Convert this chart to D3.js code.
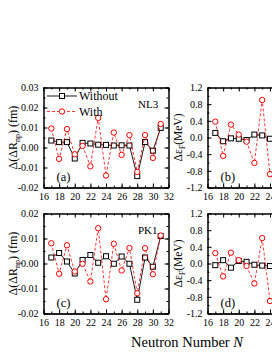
<!DOCTYPE html>
<html>
<head>
<meta charset="utf-8">
<script src="https://cdn.jsdelivr.net/npm/d3@7"></script>
<style>
  html, body { margin: 0; padding: 0; background: #fff; }
  svg { display: block; font-family: "Liberation Serif", "Times New Roman", serif; }
</style>
</head>
<body>
<div id="container"></div>
<script>
/* DATA */
const neutrons = [17, 18, 19, 20, 21, 22, 23, 24, 25, 26, 27, 28, 29, 30, 31];
const neutronsEf = [17, 18, 19, 20, 21, 22, 23, 24];

// (a) NL3, Delta(Delta R_np) in fm
const nl3DrWithout = [0.0035, 0.0027, 0.0027, -0.0055, 0.0023, 0.0020, 0.0014, 0.0013, 0.0010, 0.0011, 0.0010, -0.0143, 0.0027, -0.0016, 0.0098];
const nl3DrWith = [0.0095, -0.0057, 0.0092, -0.0034, 0.0008, -0.0094, 0.0148, -0.0140, 0.0075, -0.0037, 0.0062, -0.0122, 0.0062, -0.0052, 0.0118];

// (c) PK1, Delta(Delta R_np) in fm
const pk1DrWithout = [0.0024, 0.0042, 0.0008, -0.0040, 0.0014, 0.0034, 0.0003, 0.0029, -0.0001, 0.0028, -0.0001, -0.0145, 0.0024, -0.0013, 0.0110];
const pk1DrWith = [0.0081, -0.0041, 0.0073, -0.0032, -0.0001, -0.0072, 0.0141, -0.0143, 0.0079, -0.0028, 0.0062, -0.0119, 0.0061, -0.0043, 0.0112];

// (b) NL3, Delta eps_F in MeV (only N <= 24 visible)
const nl3EfWithout = [0.11, -0.09, -0.02, -0.03, -0.06, 0.07, 0.05, -0.03];
const nl3EfWith = [0.38, -0.44, 0.31, 0.07, -0.10, -0.61, 0.90, -0.88];

// (d) PK1, Delta eps_F in MeV
const pk1EfWithout = [-0.04, 0.08, -0.10, 0.06, 0.04, -0.03, -0.05, -0.06];
const pk1EfWith = [0.25, -0.31, 0.26, 0.08, -0.06, -0.48, 0.61, -0.90];

// tick labels
const xTicks = [16, 18, 20, 22, 24, 26, 28, 30, 32];
const xTicksRight = [16, 18, 20, 22, 24]; // the rest fall outside the picture
const drTicksA = [-0.02, -0.01, 0.00, 0.01, 0.02, 0.03];
const drTicksC = [-0.02, -0.01, 0.00, 0.01, 0.02];
const efTicks = [-1.2, -0.8, -0.4, 0.0, 0.4, 0.8, 1.2];

const legendLabels = ["Without", "With"];

/* LAYOUT */
const W = 272, H = 352;
const svg = d3.select("#container").append("svg")
  .attr("width", W).attr("height", H);

const red = "#ff0000";

function drawPanel(opt) {
  const x = d3.scaleLinear().domain([16, 32]).range([opt.x0, opt.x1]);
  const y = d3.scaleLinear().domain(opt.yDomain).range([opt.y1, opt.y0]);
  const g = svg.append("g");

  const minorX = d3.range(16, 33, 1);
  const minorY = d3.range(opt.yDomain[0], opt.yDomain[1] + opt.minorStep / 2, opt.minorStep);

  // minor ticks
  g.append("g").attr("transform", `translate(0,${opt.y1})`)
    .call(d3.axisBottom(x).tickValues(minorX).tickSize(-2).tickSizeOuter(0).tickFormat(""));
  g.append("g").attr("transform", `translate(0,${opt.y0})`)
    .call(d3.axisTop(x).tickValues(minorX).tickSize(-2).tickSizeOuter(0).tickFormat(""));
  g.append("g").attr("transform", `translate(${opt.x0},0)`)
    .call(d3.axisLeft(y).tickValues(minorY).tickSize(-2).tickSizeOuter(0).tickFormat(""));
  g.append("g").attr("transform", `translate(${opt.x1},0)`)
    .call(d3.axisRight(y).tickValues(minorY).tickSize(-2).tickSizeOuter(0).tickFormat(""));

  // major ticks
  g.append("g").attr("transform", `translate(0,${opt.y1})`)
    .call(d3.axisBottom(x).tickValues(xTicks).tickSize(-4).tickSizeOuter(0).tickFormat(""));
  const xAxis = g.append("g").attr("transform", `translate(0,${opt.y1})`)
    .call(d3.axisBottom(x).tickValues(opt.xLabels).tickSize(0).tickSizeOuter(0).tickPadding(5).tickFormat(d => d));
  g.append("g").attr("transform", `translate(0,${opt.y0})`)
    .call(d3.axisTop(x).tickValues(xTicks).tickSize(-4).tickSizeOuter(0).tickFormat(""));
  const yAxis = g.append("g").attr("transform", `translate(${opt.x0},0)`)
    .call(d3.axisLeft(y).tickValues(opt.yTicks).tickSize(-4).tickSizeOuter(0).tickPadding(5).tickFormat(d => d.toFixed(opt.digits)));
  g.append("g").attr("transform", `translate(${opt.x1},0)`)
    .call(d3.axisRight(y).tickValues(opt.yTicks).tickSize(-4).tickSizeOuter(0).tickFormat(""));

  g.selectAll(".domain").attr("stroke", "#000").attr("stroke-width", 1);
  g.selectAll(".tick line").attr("stroke", "#000");
  xAxis.selectAll(".tick text").attr("font-family", "Liberation Serif").attr("font-size", 10).attr("fill", "#000");
  yAxis.selectAll(".tick text").attr("font-family", "Liberation Serif").attr("font-size", 10).attr("fill", "#000");

  // series: Without (black, solid, squares)
  const line = d3.line().x(d => x(d[0])).y(d => y(d[1]));
  const blackPts = opt.ns.map((n, i) => [n, opt.without[i]]);
  const redPts = opt.ns.map((n, i) => [n, opt.with[i]]);

  g.append("path").datum(blackPts).attr("d", line)
    .attr("fill", "none").attr("stroke", "#000").attr("stroke-width", 0.9);
  g.selectAll("rect.sq").data(blackPts).join("rect").attr("class", "sq")
    .attr("x", d => x(d[0]) - 2.5).attr("y", d => y(d[1]) - 2.5)
    .attr("width", 5).attr("height", 5)
    .attr("fill", "#fff").attr("stroke", "#000").attr("stroke-width", 1);

  // series: With (red, dashed, circles)
  g.append("path").datum(redPts).attr("d", line)
    .attr("fill", "none").attr("stroke", red).attr("stroke-width", 0.8)
    .attr("stroke-dasharray", "3,2");
  g.selectAll("circle.ci").data(redPts).join("circle").attr("class", "ci")
    .attr("cx", d => x(d[0])).attr("cy", d => y(d[1])).attr("r", 2.7)
    .attr("fill", "#fff").attr("stroke", red).attr("stroke-width", 1);

  // panel letter
  g.append("text").attr("x", opt.x0 + 13).attr("y", opt.y1 - 6.5)
    .attr("font-size", 12.5).attr("fill", "#000").text(opt.letter);

  if (opt.model) {
    g.append("text").attr("x", opt.x1 - 30.5).attr("y", opt.y0 + 20.5)
      .attr("font-size", 11).attr("fill", "#000").text(opt.model);
  }

  // y label
  const yl = g.append("text")
    .attr("transform", `translate(${opt.labelX},${(opt.y0 + opt.y1) / 2}) rotate(-90)`)
    .attr("text-anchor", "middle").attr("font-size", opt.labelSize).attr("fill", "#000");
  opt.label(yl);

  return { x, y, g };
}

// (a)
const pa = drawPanel({
  x0: 43.5, x1: 168.5, y0: 87.5, y1: 187.5,
  yDomain: [-0.02, 0.03], yTicks: drTicksA, minorStep: 0.005, digits: 2, xLabels: xTicks,
  ns: neutrons, without: nl3DrWithout, with: nl3DrWith,
  letter: "(a)", model: "NL3", labelX: 17, labelSize: 12,
  label: t => {
    t.append("tspan").text("Δ(ΔR");
    t.append("tspan").attr("font-size", 8).attr("dy", 3).text("np");
    t.append("tspan").attr("dy", -3).text(") (fm)");
  }
});

// legend in (a)
const legY = [96, 111.5];
pa.g.append("line").attr("x1", 47).attr("x2", 77).attr("y1", legY[0]).attr("y2", legY[0])
  .attr("stroke", "#000").attr("stroke-width", 0.9);
pa.g.append("rect").attr("x", 62 - 2.5).attr("y", legY[0] - 2.5).attr("width", 5).attr("height", 5)
  .attr("fill", "#fff").attr("stroke", "#000");
pa.g.append("line").attr("x1", 47).attr("x2", 77).attr("y1", legY[1]).attr("y2", legY[1])
  .attr("stroke", red).attr("stroke-width", 0.8).attr("stroke-dasharray", "3,2");
pa.g.append("circle").attr("cx", 62).attr("cy", legY[1]).attr("r", 2.7)
  .attr("fill", "#fff").attr("stroke", red);
legendLabels.forEach((lab, i) => {
  pa.g.append("text").attr("x", 79).attr("y", legY[i] + 4.3)
    .attr("font-size", 12).attr("fill", "#000").text(lab);
});

// (b)
drawPanel({
  x0: 207.5, x1: 332.5, y0: 87.5, y1: 187.5,
  yDomain: [-1.2, 1.2], yTicks: efTicks, minorStep: 0.2, digits: 1, xLabels: xTicksRight,
  ns: neutronsEf, without: nl3EfWithout, with: nl3EfWith,
  letter: "(b)", model: null, labelX: 182, labelSize: 11.5,
  label: t => {
    t.append("tspan").text("Δε");
    t.append("tspan").attr("font-size", 8).attr("dy", 3).text("F");
    t.append("tspan").attr("dy", -3).text("(MeV)");
  }
});

// (c)
drawPanel({
  x0: 43.5, x1: 168.5, y0: 213.5, y1: 313.5,
  yDomain: [-0.02, 0.02], yTicks: drTicksC, minorStep: 0.005, digits: 2, xLabels: xTicks,
  ns: neutrons, without: pk1DrWithout, with: pk1DrWith,
  letter: "(c)", model: "PK1", labelX: 17, labelSize: 12,
  label: t => {
    t.append("tspan").text("Δ(ΔR");
    t.append("tspan").attr("font-size", 8).attr("dy", 3).text("np");
    t.append("tspan").attr("dy", -3).text(") (fm)");
  }
});

// (d)
drawPanel({
  x0: 207.5, x1: 332.5, y0: 213.5, y1: 313.5,
  yDomain: [-1.2, 1.2], yTicks: efTicks, minorStep: 0.2, digits: 1, xLabels: xTicksRight,
  ns: neutronsEf, without: pk1EfWithout, with: pk1EfWith,
  letter: "(d)", model: null, labelX: 182, labelSize: 11.5,
  label: t => {
    t.append("tspan").text("Δε");
    t.append("tspan").attr("font-size", 8).attr("dy", 3).text("F");
    t.append("tspan").attr("dy", -3).text("(MeV)");
  }
});

// shared x label
const xl = svg.append("text").attr("x", 187).attr("y", 347)
  .attr("text-anchor", "middle").attr("font-size", 14.5).attr("fill", "#000");
xl.append("tspan").text("Neutron Number ");
xl.append("tspan").attr("font-style", "italic").text("N");
</script>
</body>
</html>
